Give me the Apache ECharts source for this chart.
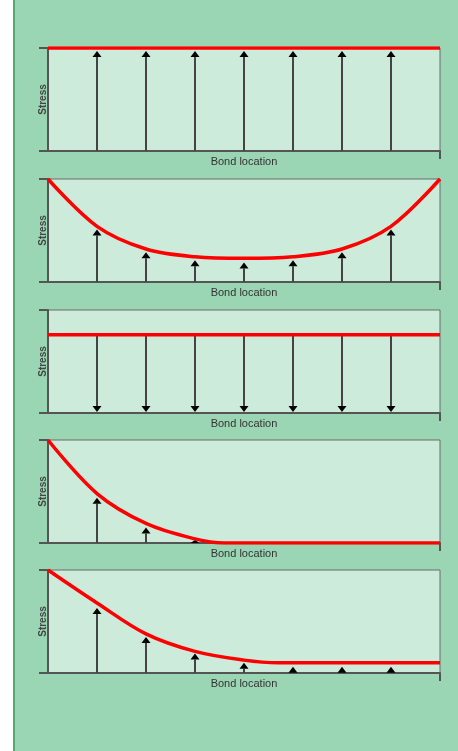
<!DOCTYPE html>
<html><head><meta charset="utf-8">
<script src="https://cdn.jsdelivr.net/npm/echarts@6/dist/echarts.min.js"></script>
<style>html,body{margin:0;padding:0;background:#9bd6b4;overflow:hidden}#c{width:458px;height:751px}</style>
</head><body><div id="c"></div><script>
// Bond positions (arrows) along the bond
const bondPositions = [1, 2, 3, 4, 5, 6, 7];

// Panel 1: uniform tension
const curve1X = [0, 8];
const curve1Y = [1, 1];
const arrows1 = [0.97, 0.97, 0.97, 0.97, 0.97, 0.97, 0.97];

// Panel 2: U-shaped stress
const curve2X = [0, 1, 2, 3, 4, 5, 6, 7, 8];
const curve2Y = [1.0, 0.54, 0.32, 0.245, 0.23, 0.245, 0.32, 0.54, 1.0];
const arrows2 = [0.51, 0.29, 0.21, 0.19, 0.21, 0.29, 0.51];

// Panel 3: uniform compression (arrows pointing down)
const curve3X = [0, 8];
const curve3Y = [0.76, 0.76];
const arrows3 = [0.76, 0.76, 0.76, 0.76, 0.76, 0.76, 0.76];

// Panel 4: stress concentrated at left end
const curve4X = [0, 1, 2, 3, 3.6, 8];
const curve4Y = [1.0, 0.48, 0.19, 0.04, 0.0, 0.0];
const arrows4 = [0.44, 0.15, 0.03, 0, 0, 0, 0];

// Panel 5: decaying stress with residual level
const curve5X = [0, 1, 2, 3, 4, 4.7, 8];
const curve5Y = [1.0, 0.68, 0.38, 0.21, 0.125, 0.10, 0.10];
const arrows5 = [0.63, 0.35, 0.19, 0.10, 0.06, 0.06, 0.06];

const panels = [
  {cx: curve1X, cy: curve1Y, arrows: arrows1, dir: 1, smooth: false},
  {cx: curve2X, cy: curve2Y, arrows: arrows2, dir: 1, smooth: true},
  {cx: curve3X, cy: curve3Y, arrows: arrows3, dir: -1, smooth: false},
  {cx: curve4X, cy: curve4Y, arrows: arrows4, dir: 1, smooth: true},
  {cx: curve5X, cy: curve5Y, arrows: arrows5, dir: 1, smooth: true}
];
const tops = [48, 179, 310, 440, 570];
const gridH = 103;

function arrowRenderer(dir) {
  return function (params, api) {
    const x = api.value(0), v = api.value(1);
    if (!(v > 0)) return null;
    const p = api.coord([x, v]), b = api.coord([x, 0]);
    const hw = 4.5, hh = 6;
    const ch = [];
    if (dir > 0) {
      const hb = Math.min(p[1] + hh, b[1]);
      if (hb < b[1]) ch.push({type: 'line', shape: {x1: b[0], y1: b[1], x2: p[0], y2: hb}, style: {stroke: '#444', lineWidth: 2}});
      ch.push({type: 'polygon', shape: {points: [[p[0], p[1]], [p[0] - hw, hb], [p[0] + hw, hb]]}, style: {fill: '#000'}});
    } else {
      const tip = b[1] - 1;
      ch.push({type: 'line', shape: {x1: p[0], y1: p[1], x2: b[0], y2: tip - hh}, style: {stroke: '#444', lineWidth: 2}});
      ch.push({type: 'polygon', shape: {points: [[b[0], tip], [b[0] - hw, tip - hh], [b[0] + hw, tip - hh]]}, style: {fill: '#000'}});
    }
    return {type: 'group', children: ch};
  };
}

const grid = [], xAxis = [], yAxis = [], series = [];
panels.forEach((pn, i) => {
  grid.push({left: 48, right: 18, top: tops[i], height: gridH, show: true,
    backgroundColor: '#cdebdb', borderColor: '#6a6a6a', borderWidth: 1});
  xAxis.push({type: 'value', gridIndex: i, min: 0, max: 8, interval: 8,
    name: 'Bond location', nameLocation: 'middle', nameGap: 5,
    nameTextStyle: {fontSize: 11, color: '#333', fontFamily: 'Liberation Sans'},
    axisLine: {show: true, lineStyle: {color: '#555', width: 2}},
    axisTick: {show: true, length: 8, customValues: [8], lineStyle: {color: '#555', width: 2}},
    axisLabel: {show: false}, splitLine: {show: false}});
  yAxis.push({type: 'value', gridIndex: i, min: 0, max: 1, interval: 1,
    name: 'Stress', nameLocation: 'middle', nameGap: 0, nameRotate: 90,
    nameTextStyle: {fontSize: 10, fontWeight: 'bold', color: '#444', fontFamily: 'Liberation Sans'},
    axisLine: {show: true, lineStyle: {color: '#555', width: 2}},
    axisTick: {show: true, length: 9, lineStyle: {color: '#555', width: 2}},
    axisLabel: {show: false}, splitLine: {show: false}});
  series.push({type: 'custom', xAxisIndex: i, yAxisIndex: i, z: 3,
    renderItem: arrowRenderer(pn.dir),
    data: bondPositions.map((b, k) => [b, pn.arrows[k]])});
  series.push({type: 'line', xAxisIndex: i, yAxisIndex: i, z: 5,
    smooth: pn.smooth ? 0.35 : false, showSymbol: false, symbol: 'none',
    lineStyle: {color: '#ff0000', width: 3.5},
    data: pn.cx.map((x, k) => [x, pn.cy[k]])});
});

const chart = echarts.init(document.getElementById('c'), null, {renderer: 'canvas'});
chart.setOption({
  backgroundColor: '#9bd6b4',
  animation: false,
  graphic: [
    {type: 'rect', left: 0, top: 0, shape: {width: 13, height: 751}, style: {fill: '#ffffff'}},
    {type: 'rect', left: 13, top: 0, shape: {width: 2, height: 751}, style: {fill: '#5aa676'}}
  ],
  grid, xAxis, yAxis, series
});
</script></body></html>
